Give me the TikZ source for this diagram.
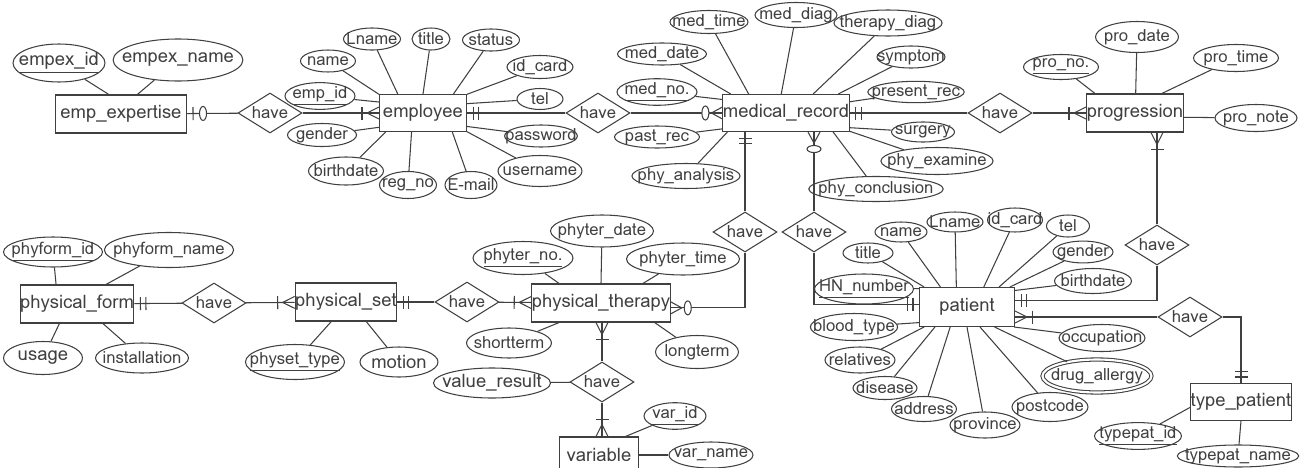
\documentclass[tikz,border=0pt]{standalone}
\usepackage{fontspec}
\setmainfont{Loma}
\usetikzlibrary{shapes.geometric,decorations.markings}

\begin{document}
\begin{tikzpicture}[
  x=0.2mm, y=-0.2mm, line width=0.6pt, color=black!75,
  ent/.style={draw, rectangle, inner sep=0pt, font=\fontsize{10.5}{12}\selectfont},
  attr/.style={draw, ellipse, inner xsep=-2mm, inner ysep=0pt, font=\fontsize{9.5}{11}\selectfont},
  bigattr/.style={attr, font=\fontsize{10.5}{12}\selectfont},
  multi/.style={attr, double, double distance=1.2pt},
  rel/.style={draw, diamond, aspect=1.6, inner sep=0pt, minimum width=12.8mm,
    minimum height=8mm, font=\fontsize{9.5}{11}\selectfont},
  one/.style={postaction={decorate, decoration={markings,
    mark=at position -2.3mm with {\draw (0,-1.3mm) -- (0,1.3mm);},
    mark=at position -1.2mm with {\draw (0,-1.3mm) -- (0,1.3mm);}}}},
  onemany/.style={postaction={decorate, decoration={markings,
    mark=at position -3.4mm with {\draw (0,-1.3mm) -- (0,1.3mm);},
    mark=at position 1 with {\draw (0,1.2mm) -- (-2.4mm,0) -- (0,-1.2mm);}}}},
  zeromany/.style={postaction={decorate, decoration={markings,
    mark=at position -3.4mm with {\draw[fill=white] (0,0) ellipse (0.7mm and 1.4mm);},
    mark=at position 1 with {\draw (0,1.2mm) -- (-2.2mm,0) -- (0,-1.2mm);}}}},
  zeroone/.style={postaction={decorate, decoration={markings,
    mark=at position -3.2mm with {\draw[fill=white] (0,0) ellipse (0.7mm and 1.4mm);},
    mark=at position -1.2mm with {\draw (0,-1.3mm) -- (0,1.3mm);}}}}
]
  \useasboundingbox (0,0) rectangle (1313,468);

  % Entities
  \node[ent, minimum width=26.2mm, minimum height=7.6mm] (empexp) at (121,114) {emp\_expertise};
  \node[ent, minimum width=17.4mm, minimum height=7.4mm] (employee) at (423,113) {employee};
  \node[ent, minimum width=23.8mm, minimum height=7.4mm] (medrec) at (786,113) {medical\_record};
  \node[ent, minimum width=19.4mm, minimum height=7.6mm] (progress) at (1135,113) {progression};
  \node[ent, minimum width=21.6mm, minimum height=7.6mm] (phyform) at (77,304) {physical\_form};
  \node[ent, minimum width=18.6mm, minimum height=7.6mm] (physet) at (346,302) {physical\_set};
  \node[ent, minimum width=24.6mm, minimum height=7.6mm] (phyther) at (601,303) {physical\_therapy};
  \node[ent, minimum width=19mm, minimum height=7.8mm] (patient) at (967,307) {patient};
  \node[ent, minimum width=19.6mm, minimum height=7.4mm] (typepat) at (1241,402) {type\_patient};
  \node[ent, minimum width=15.8mm, minimum height=7.2mm] (variable) at (599,455) {variable};

  % Relationships
  \node[rel] (have1) at (270,113) {have};
  \node[rel] (have2) at (598,113) {have};
  \node[rel] (have3) at (1000,113) {have};
  \node[rel] (have4) at (745,232) {have};
  \node[rel] (have5) at (814,232) {have};
  \node[rel] (have6) at (1157,245) {have};
  \node[rel] (have7) at (1190,317) {have};
  \node[rel] (have8) at (214,303) {have};
  \node[rel] (have9) at (467,302) {have};
  \node[rel] (have10) at (602,382) {have};

  \draw[zeroone] (have1) -- (empexp);
  \draw[onemany] (have1) -- (employee);
  \draw[one] (have2) -- (employee);
  \draw[zeromany] (have2) -- (medrec);
  \draw[one] (have3) -- (medrec);
  \draw[onemany] (have3) -- (progress);
  \draw[one] (have4) -- (medrec.south -| have4);
  \draw[zeromany] (have4) |- (phyther.356);
  \draw[zeromany] (have5) -- (medrec.south -| have5);
  \draw[one] (have5) |- (patient.177);
  \draw[onemany] (have6) -- (progress.south -| have6);
  \draw[one] (have6) |- (patient.8);
  \draw[onemany] (have7) -- (patient.east |- have7);
  \draw[one] (have7) -| (typepat.north);
  \draw[one] (have8) -- (phyform);
  \draw[onemany] (have8) -- (physet);
  \draw[one] (have9) -- (physet);
  \draw[onemany] (have9) -- (phyther);
  \draw[onemany] (have10) -- (phyther.south -| have10);
  \draw[onemany] (have10) -- (variable.north -| have10);

  % emp_expertise
  \node[bigattr, minimum width=18.4mm, minimum height=7.6mm] (empexid) at (59,63) {\underline{empex\_id}};
  \node[bigattr, minimum width=25.4mm, minimum height=8.4mm] (empexname) at (178,60) {empex\_name};
  \draw (empexid) -- (empexp.122);
  \draw (empexname) -- (empexp.50);

  % employee
  \node[attr, minimum width=11mm, minimum height=4.4mm] (ename) at (328,61) {name};
  \node[attr, minimum width=11.4mm, minimum height=4.4mm] (elname) at (372,39) {Lname};
  \node[attr, minimum width=7.6mm, minimum height=4.4mm] (etitle) at (431,39) {title};
  \node[attr, minimum width=11.4mm, minimum height=4.4mm] (estatus) at (491,40) {status};
  \node[attr, minimum width=13.2mm, minimum height=4.6mm] (eidcard) at (540,67) {id\_card};
  \node[attr, minimum width=14mm, minimum height=4.4mm] (eempid) at (320,96) {\underline{emp\_id}};
  \node[attr, minimum width=9.2mm, minimum height=4.2mm] (etel) at (540,99) {tel};
  \node[attr, minimum width=13.8mm, minimum height=4.6mm] (egender) at (322,135) {gender};
  \node[attr, minimum width=14.2mm, minimum height=4.4mm] (epassword) at (541,136) {password};
  \node[attr, minimum width=15mm, minimum height=5.6mm] (ebirth) at (346,171) {birthdate};
  \node[attr, minimum width=11.4mm, minimum height=5.4mm] (eregno) at (408,185) {reg\_no};
  \node[attr, minimum width=10.4mm, minimum height=5.4mm] (eemail) at (471,185) {E-mail};
  \node[attr, minimum width=16.8mm, minimum height=6.2mm] (euser) at (540,171) {username};
  \draw (ename) -- (employee.157);
  \draw (elname) -- (employee.143);
  \draw (etitle) -- (employee.90);
  \draw (estatus) -- (employee.32);
  \draw (eidcard) -- (employee.23);
  \draw (eempid) -- (employee.166);
  \draw (etel) -- (employee.12);
  \draw (egender) -- (employee.198);
  \draw (epassword) -- (employee.343);
  \draw (ebirth) -- (employee.207);
  \draw (eregno) -- (employee.239);
  \draw (eemail) -- (employee.327);
  \draw (euser) -- (employee.337);

  % medical_record
  \node[attr, minimum width=15.6mm, minimum height=4.6mm] (mtime) at (709,22) {med\_time};
  \node[attr, minimum width=16.4mm, minimum height=5mm] (mdiag) at (796,15) {med\_diag};
  \node[attr, minimum width=19.4mm, minimum height=5.2mm] (mther) at (888,23) {therapy\_diag};
  \node[attr, minimum width=17.8mm, minimum height=4.4mm] (mdate) at (662,54) {med\_date};
  \node[attr, minimum width=13.6mm, minimum height=4.4mm] (msymp) at (911,57) {symptom};
  \node[attr, minimum width=16mm, minimum height=4.4mm] (mno) at (657,92) {\underline{med\_no.}};
  \node[attr, minimum width=17mm, minimum height=4.2mm] (mpres) at (916,92) {present\_rec};
  \node[attr, minimum width=17mm, minimum height=4.4mm] (mpast) at (657,137) {past\_rec};
  \node[attr, minimum width=12.6mm, minimum height=4mm] (msurg) at (923,132) {surgery};
  \node[attr, minimum width=20.6mm, minimum height=5mm] (manal) at (686,176) {phy\_analysis};
  \node[attr, minimum width=18mm, minimum height=5.4mm] (mexam) at (937,161) {phy\_examine};
  \node[attr, minimum width=22.6mm, minimum height=5mm] (mconc) at (876,189) {phy\_conclusion};
  \draw (mtime) -- (medrec.153);
  \draw (mdiag) -- (medrec.104);
  \draw (mther) -- (medrec.35);
  \draw (mdate) -- (medrec.161);
  \draw (msymp) -- (medrec.20);
  \draw (mno) -- (medrec.168);
  \draw (mpres) -- (medrec.10);
  \draw (mpast) -- (medrec.194);
  \draw (msurg) -- (medrec.347);
  \draw (manal) -- (medrec.198);
  \draw (mexam) -- (medrec.344);
  \draw (mconc) -- (medrec.338);

  % progression
  \node[attr, minimum width=15mm, minimum height=5mm] (pno) at (1061,67) {\underline{pro\_no.}};
  \node[attr, minimum width=16.6mm, minimum height=6.2mm] (pdate) at (1137,37) {pro\_date};
  \node[attr, minimum width=17mm, minimum height=5.4mm] (ptime) at (1236,58) {pro\_time};
  \node[attr, minimum width=16.4mm, minimum height=5.4mm] (pnote) at (1256,118) {pro\_note};
  \draw (pno) -- (progress.154);
  \draw (pdate) -- (progress.88);
  \draw (ptime) -- (progress.36);
  \draw (pnote) -- (progress.355);

  % physical_form
  \node[attr, minimum width=19.8mm, minimum height=6mm] (fid) at (53,252) {\underline{phyform\_id}};
  \node[attr, minimum width=23mm, minimum height=7mm] (fname) at (169,250) {phyform\_name};
  \node[bigattr, minimum width=15.8mm, minimum height=6.6mm] (fusage) at (43,358) {usage};
  \node[attr, minimum width=18.6mm, minimum height=6mm] (finst) at (142,358) {installation};
  \draw (fid) -- (phyform.137);
  \draw (fname) -- (phyform.34);
  \draw (fusage) -- (phyform.228);
  \draw (finst) -- (phyform.323);

  % physical_set
  \node[attr, minimum width=19.2mm, minimum height=7mm] (stype) at (295,362) {\underline{physet\_type}};
  \node[bigattr, minimum width=15.6mm, minimum height=6mm] (smotion) at (399,362) {motion};
  \draw (stype) -- (physet.233);
  \draw (smotion) -- (physet.316);

  % physical_therapy
  \node[attr, minimum width=20.6mm, minimum height=6.4mm] (tdate) at (602,231) {phyter\_date};
  \node[attr, minimum width=20mm, minimum height=6.6mm] (tno) at (523,258) {\underline{phyter\_no.}};
  \node[attr, minimum width=22.6mm, minimum height=6.4mm] (ttime) at (683,259) {phyter\_time};
  \node[attr, minimum width=17mm, minimum height=6mm] (tshort) at (509,343) {shortterm};
  \node[attr, minimum width=16.6mm, minimum height=6.6mm] (tlong) at (697,352) {longterm};
  \node[bigattr, minimum width=23.4mm, minimum height=6mm] (tvalue) at (492,383) {value\_result};
  \draw (tdate) -- (phyther.north);
  \draw (tno) -- (phyther.155);
  \draw (ttime) -- (phyther.25);
  \draw (tshort) -- (phyther.205);
  \draw (tlong) -- (phyther.340);
  \draw (tvalue) -- (have10);

  % variable
  \node[attr, minimum width=12.4mm, minimum height=5mm] (vid) at (675,416) {\underline{var\_id}};
  \node[attr, minimum width=16.8mm, minimum height=5.2mm] (vname) at (711,455) {var\_name};
  \draw (vid) -- (variable.35);
  \draw (vname) -- (variable.east |- vname);

  % patient
  \node[attr, minimum width=10mm, minimum height=4mm] (patitle) at (868,253) {title};
  \node[attr, minimum width=10.4mm, minimum height=4mm] (paname) at (901,232) {name};
  \node[attr, minimum width=11.2mm, minimum height=4mm] (palname) at (955,222) {Lname};
  \node[attr, minimum width=11mm, minimum height=4.8mm] (paidcard) at (1015,220) {id\_card};
  \node[attr, minimum width=8.6mm, minimum height=4.4mm] (patel) at (1068,226) {tel};
  \node[attr, minimum width=12mm, minimum height=4.2mm] (pagender) at (1083,252) {gender};
  \node[attr, minimum width=15.4mm, minimum height=5mm] (pabirth) at (1093,281) {birthdate};
  \node[attr, minimum width=19mm, minimum height=6mm] (pahn) at (864,289) {\underline{HN\_number}};
  \node[attr, minimum width=17mm, minimum height=5.4mm] (pablood) at (854,327) {blood\_type};
  \node[attr, minimum width=14mm, minimum height=5.2mm] (parel) at (860,360) {relatives};
  \node[attr, minimum width=12.8mm, minimum height=4.6mm] (padis) at (885,388) {disease};
  \node[attr, minimum width=13mm, minimum height=5mm] (paaddr) at (924,409) {address};
  \node[attr, minimum width=14mm, minimum height=5.2mm] (paprov) at (985,425) {province};
  \node[attr, minimum width=15.2mm, minimum height=5.8mm] (papost) at (1050,407) {postcode};
  \node[multi, minimum width=21.8mm, minimum height=6.6mm] (padrug) at (1097,376) {drug\_allergy};
  \node[attr, minimum width=16.6mm, minimum height=5.4mm] (paocc) at (1102,338) {occupation};
  \draw (patitle) -- (patient.155);
  \draw (paname) -- (patient.143);
  \draw (palname) -- (patient.118);
  \draw (paidcard) -- (patient.50);
  \draw (patel) -- (patient.32);
  \draw (pagender) -- (patient.25);
  \draw (pabirth) -- (patient.19);
  \draw (pahn) -- (patient.159);
  \draw (pablood) -- (patient.198);
  \draw (parel) -- (patient.205);
  \draw (padis) -- (patient.212);
  \draw (paaddr) -- (patient.230);
  \draw (paprov) -- (patient.270);
  \draw (papost) -- (patient.303);
  \draw (padrug) -- (patient.324);
  \draw (paocc) -- (patient.337);

  % type_patient
  \node[attr, minimum width=17.4mm, minimum height=5mm] (tpid) at (1138,436) {\underline{typepat\_id}};
  \node[attr, minimum width=22.6mm, minimum height=4.4mm] (tpname) at (1238,456) {typepat\_name};
  \draw (tpid) -- (typepat.186);
  \draw (tpname) -- (typepat.south);
\end{tikzpicture}
\end{document}
